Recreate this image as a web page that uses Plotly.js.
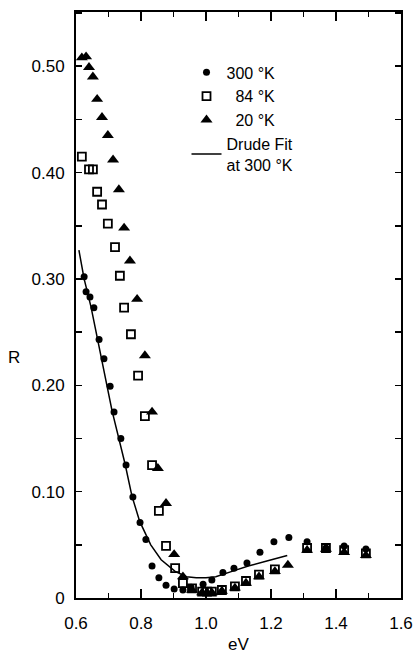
<!DOCTYPE html>
<html>
<head>
<meta charset="utf-8">
<script src="https://cdn.plot.ly/plotly-3.0.1.min.js"></script>
<style>html,body{margin:0;padding:0;background:#fff;}#chart{width:417px;height:654px;}</style>
</head>
<body>
<div id="chart"></div>
<script>
// 300 °K (filled circles)
const eV300 = [0.625,0.631,0.643,0.655,0.671,0.686,0.705,0.717,0.738,0.754,0.775,0.797,0.815,0.834,0.855,0.877,0.902,0.929,0.954,0.991,1.018,1.052,1.086,1.126,1.166,1.209,1.255,1.311,1.369,1.425,1.492];
const R300  = [0.302,0.288,0.283,0.273,0.243,0.225,0.199,0.175,0.150,0.125,0.095,0.071,0.055,0.030,0.019,0.012,0.0085,0.0075,0.010,0.013,0.017,0.024,0.028,0.033,0.043,0.053,0.057,0.053,0.047,0.049,0.046];
// 84 °K (open squares)
const eV84 = [0.618,0.640,0.652,0.665,0.680,0.698,0.720,0.735,0.748,0.769,0.791,0.812,0.834,0.855,0.877,0.905,0.929,0.957,0.988,1.003,1.018,1.049,1.089,1.123,1.163,1.212,1.311,1.369,1.425,1.492];
const R84  = [0.415,0.403,0.403,0.382,0.370,0.352,0.330,0.303,0.273,0.248,0.209,0.171,0.125,0.082,0.049,0.028,0.014,0.009,0.006,0.006,0.006,0.0075,0.011,0.016,0.022,0.027,0.047,0.047,0.045,0.042];
// 20 °K (filled triangles)
const eV20 = [0.618,0.631,0.640,0.652,0.665,0.680,0.698,0.714,0.732,0.748,0.766,0.788,0.812,0.834,0.852,0.877,0.902,0.929,0.957,0.988,1.003,1.018,1.049,1.089,1.123,1.163,1.212,1.252,1.311,1.369,1.425,1.492];
const R20  = [0.508,0.509,0.499,0.490,0.469,0.452,0.435,0.412,0.384,0.348,0.317,0.281,0.228,0.175,0.122,0.089,0.041,0.020,0.0075,0.005,0.005,0.005,0.0065,0.0095,0.014,0.020,0.025,0.031,0.045,0.046,0.043,0.040];
// Drude fit at 300 °K
const eVfit = [0.609,0.625,0.646,0.677,0.695,0.711,0.751,0.772,0.796,0.830,0.862,0.905,0.940,0.970,1.000,1.030,1.080,1.130,1.190,1.250];
const Rfit  = [0.327,0.300,0.274,0.226,0.200,0.176,0.126,0.096,0.072,0.050,0.036,0.025,0.020,0.019,0.019,0.020,0.025,0.030,0.035,0.040];

const xTicks = [0.6,0.8,1.0,1.2,1.4,1.6];
const xTickText = ['0.6','0.8','1.0','1.2','1.4','1.6'];
const yTicks = [0,0.1,0.2,0.3,0.4,0.5];
const yTickText = ['0','0.10','0.20','0.30','0.40','0.50'];

const FONT = 'Liberation Sans, Arial, Helvetica, sans-serif';

const traces = [
  {x: eVfit, y: Rfit, mode: 'lines', name: 'Drude Fit<br>at 300 °K', legendrank: 4,
   line: {color: '#000', width: 1.5}},
  {x: eV84, y: R84, mode: 'markers', name: '\u00a0\u00a084 °K', legendrank: 2,
   marker: {symbol: 'square-open', size: 8, color: '#000', line: {width: 1.8, color: '#000'}}},
  {x: eV20, y: R20, mode: 'markers', name: '\u00a0\u00a020 °K', legendrank: 3,
   marker: {symbol: 'triangle-up', size: 10.5, color: '#000'}},
  {x: eV300, y: R300, mode: 'markers', name: '300 °K', legendrank: 1,
   marker: {symbol: 'circle', size: 7, color: '#000'}}
];

const layout = {
  width: 417, height: 654,
  margin: {l: 76, r: 16, t: 12, b: 56},
  paper_bgcolor: '#fff', plot_bgcolor: '#fff',
  font: {family: FONT, color: '#000', size: 16},
  showlegend: true,
  legend: {x: 0.34, y: 0.926, xanchor: 'left', yanchor: 'top', bgcolor: 'rgba(0,0,0,0)',
           font: {family: FONT, size: 16, color: '#000'}, traceorder: 'normal'},
  xaxis: {
    range: [0.6, 1.6], tickvals: xTicks, ticktext: xTickText,
    ticks: 'inside', ticklen: 9, tickwidth: 1.5, tickcolor: '#000',
    minor: {dtick: 0.1, tick0: 0.6, ticks: 'inside', ticklen: 5, tickwidth: 1.5, tickcolor: '#000'},
    showline: true, linewidth: 2, linecolor: '#000', mirror: 'allticks',
    showgrid: false, zeroline: false, ticklabelstandoff: 9,
    tickfont: {family: FONT, size: 17, color: '#000'},
    title: {text: 'eV', font: {family: FONT, size: 17, color: '#000'}, standoff: 20}
  },
  yaxis: {
    range: [0, 0.551], tickvals: yTicks, ticktext: yTickText,
    ticks: 'inside', ticklen: 6, tickwidth: 1.5, tickcolor: '#000',
    minor: {dtick: 0.05, tick0: 0, ticks: 'inside', ticklen: 6, tickwidth: 1.5, tickcolor: '#000'},
    showline: true, linewidth: 2, linecolor: '#000', mirror: 'allticks',
    showgrid: false, zeroline: false, ticklabelstandoff: 6,
    tickfont: {family: FONT, size: 17, color: '#000'}
  },
  annotations: [
    {text: 'R', xref: 'paper', yref: 'paper', x: -0.19, y: 0.41, xanchor: 'center', yanchor: 'middle',
     showarrow: false, font: {family: FONT, size: 17, color: '#000'}}
  ]
};

Plotly.newPlot('chart', traces, layout, {displayModeBar: false, staticPlot: true});
</script>
</body>
</html>
